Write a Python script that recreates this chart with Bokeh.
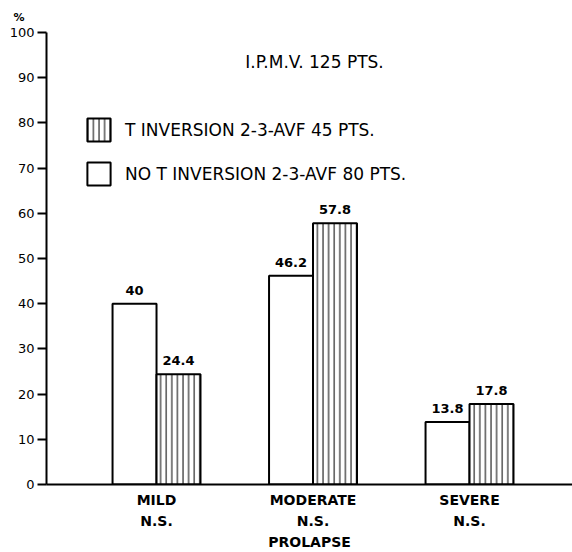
from bokeh.plotting import figure
from bokeh.models import (ColumnDataSource, Range1d, FixedTicker, LinearAxis, Label,
                          Legend, LegendItem)
from bokeh.transform import dodge
from bokeh.core.properties import value
from bokeh.embed import file_html
from bokeh.resources import INLINE

# ---- data ----
categories = ["MILD", "MODERATE", "SEVERE"]
significance = ["N.S.", "N.S.", "N.S."]
no_t_inversion = [40, 46.2, 13.8]
t_inversion = [24.4, 57.8, 17.8]
y_ticks = [0, 10, 20, 30, 40, 50, 60, 70, 80, 90, 100]
x_axis_title = "PROLAPSE"
chart_note = "I.P.M.V. 125 PTS."
series_names = ["T INVERSION 2-3-AVF 45 PTS.", "NO T INVERSION 2-3-AVF 80 PTS."]
y_unit = "%"

xpos = list(range(1, len(categories) + 1))
BAR_W = 0.281
FONT = "DejaVu Sans"
X0, X1 = 0.297, 3.658

src = ColumnDataSource(dict(
    x=xpos,
    no_t=no_t_inversion,
    t=t_inversion,
    no_t_lbl=[f"{v:g}" for v in no_t_inversion],
    t_lbl=[f"{v:g}" for v in t_inversion],
))

p = figure(width=572, height=552, output_backend="svg", toolbar_location=None,
           x_range=Range1d(X0, X1), y_range=Range1d(0, 100),
           min_border_left=46, min_border_top=32, min_border_right=0, min_border_bottom=68)
p.grid.visible = False
p.outline_line_color = None
p.background_fill_color = "white"

# unit label shown as the plot title, above the y axis
p.title.text = y_unit
p.title.align = "left"
p.title.offset = -33
p.title.standoff = 17
p.title.text_font = FONT
p.title.text_font_style = "bold"
p.title.text_font_size = "11px"
p.title.text_color = "black"

# bars
r_no = p.vbar(x=dodge("x", -BAR_W / 2, range=p.x_range), top="no_t", width=BAR_W, source=src,
              fill_color="white", line_color="black", line_width=2)
r_t = p.vbar(x=dodge("x", BAR_W / 2, range=p.x_range), top="t", width=BAR_W, source=src,
             fill_color="white", line_color="black", line_width=2,
             hatch_pattern="vertical_line", hatch_scale=5.6, hatch_weight=1, hatch_color="black")

# value labels
lbl_kw = dict(source=src, text_align="center", text_baseline="bottom", y_offset=-9,
              text_font=value(FONT), text_font_style="bold", text_font_size="13px",
              text_color="black")
p.text(x=dodge("x", -BAR_W / 2, range=p.x_range), y="no_t", text="no_t_lbl", **lbl_kw)
p.text(x=dodge("x", BAR_W / 2, range=p.x_range), y="t", text="t_lbl", **lbl_kw)

# y axis
ya = p.yaxis[0]
ya.ticker = FixedTicker(ticks=y_ticks)
ya.major_tick_out = 9
ya.major_tick_in = 0
ya.minor_tick_out = 0
ya.minor_tick_in = 0
ya.axis_line_width = 2
ya.major_tick_line_width = 2
ya.major_label_standoff = 3
ya.major_label_text_font = FONT
ya.major_label_text_font_size = "13px"
ya.major_label_text_color = "black"

# x axis 1 (categories)
xa = p.xaxis[0]
xa.ticker = FixedTicker(ticks=xpos)
xa.major_label_overrides = {x: c for x, c in zip(xpos, categories)}
xa.major_tick_out = 0
xa.major_tick_in = 0
xa.minor_tick_out = 0
xa.minor_tick_in = 0
xa.axis_line_width = 2
xa.major_label_standoff = 7
xa.major_label_text_font = FONT
xa.major_label_text_font_style = "bold"
xa.major_label_text_font_size = "14px"
xa.major_label_text_color = "black"

# x axis 2 (significance + title)
xa2 = LinearAxis(ticker=FixedTicker(ticks=xpos),
                 major_label_overrides={x: s for x, s in zip(xpos, significance)},
                 axis_line_color=None, major_tick_out=0, major_tick_in=0,
                 minor_tick_out=0, minor_tick_in=0, major_label_standoff=2,
                 major_label_text_font=FONT, major_label_text_font_style="bold",
                 major_label_text_font_size="14px", major_label_text_color="black",
                 axis_label=x_axis_title, axis_label_standoff=2,
                 axis_label_text_font=FONT, axis_label_text_font_style="bold",
                 axis_label_text_font_size="14px", axis_label_text_color="black")
p.add_layout(xa2, "below")

# legend
legend = Legend(items=[LegendItem(label=series_names[0], renderers=[r_t]),
                       LegendItem(label=series_names[1], renderers=[r_no])],
                location=(38, 296), orientation="vertical",
                glyph_width=29, glyph_height=29, spacing=15, label_standoff=12,
                padding=0, margin=0, border_line_color=None, background_fill_alpha=0,
                label_text_font=FONT, label_text_font_size="17px",
                label_text_color="black")
p.add_layout(legend)

# note
p.add_layout(Label(x=268, y=423, x_units="screen", y_units="screen", text=chart_note,
                   text_align="center", text_baseline="middle", text_font=FONT,
                   text_font_size="17px", text_color="black"))

open("out.html", "w").write(file_html(p, INLINE))
